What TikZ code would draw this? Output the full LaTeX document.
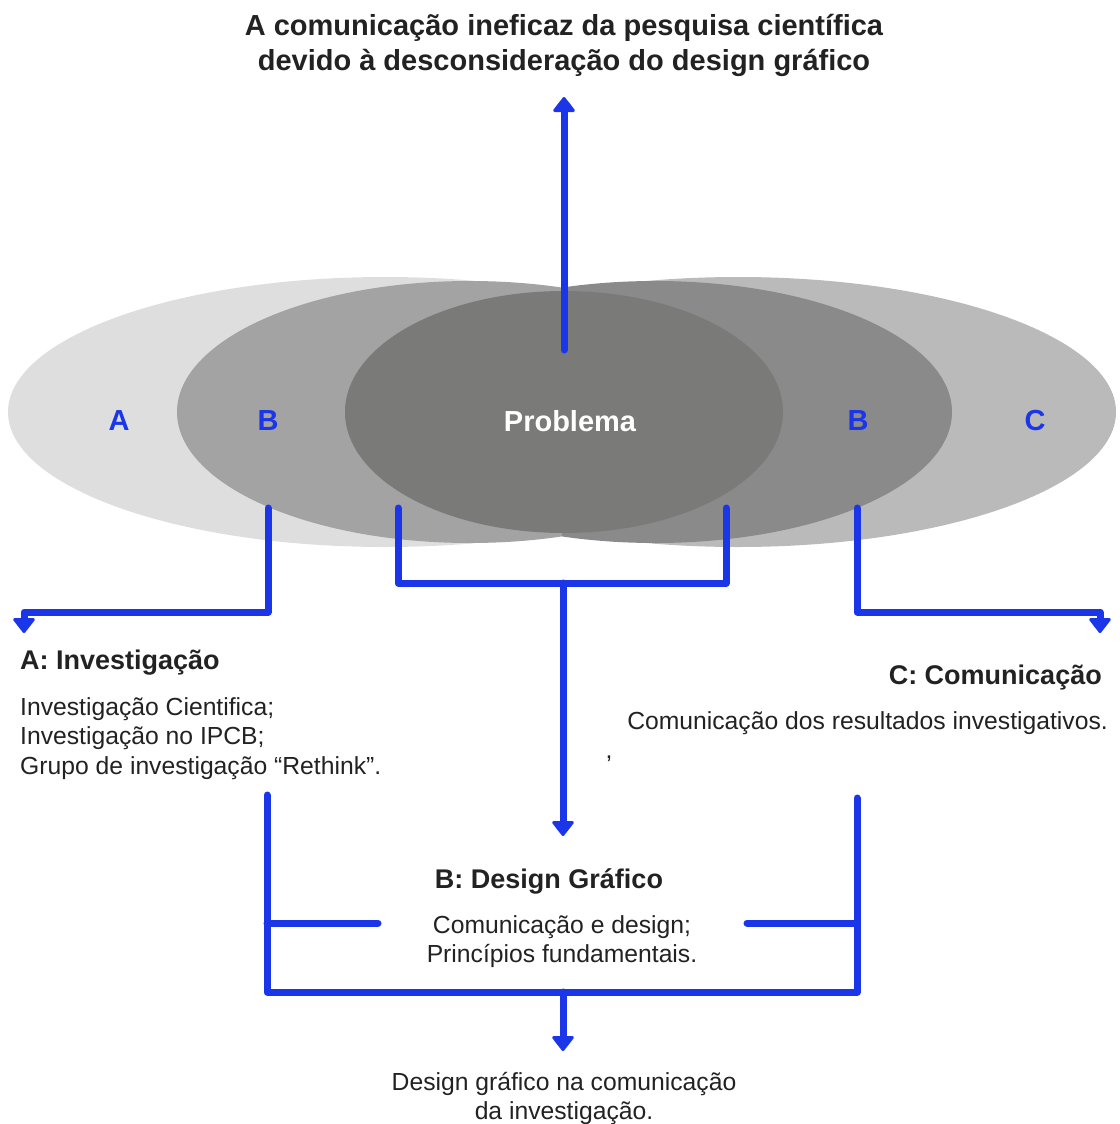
\documentclass[tikz,border=0pt]{standalone}
\usepackage{fontspec}
\setmainfont{Liberation Sans}
\usetikzlibrary{arrows.meta}

\definecolor{flowblue}{RGB}{26,54,232}
\definecolor{inkgray}{RGB}{34,34,34}
\definecolor{zoneA}{RGB}{222,222,222}
\definecolor{zoneBl}{RGB}{163,163,163}
\definecolor{zoneBr}{RGB}{138,138,138}
\definecolor{zoneC}{RGB}{186,186,186}
\definecolor{zoneP}{RGB}{122,122,120}

\tikzset{
  flow/.style={draw=flowblue, line width=7pt, line cap=round, line join=round},
  flowarrow/.style={flow, -{Triangle[round, width=24pt, length=16pt, line width=3pt]}},
  letter/.style={text=flowblue, inner sep=0pt, font=\fontsize{29}{35}\selectfont\bfseries},
  heading/.style={text=inkgray, inner sep=0pt, font=\fontsize{27}{32}\selectfont\bfseries},
  body/.style={text=inkgray, inner sep=0pt, font=\fontsize{24.7}{29.5}\selectfont},
}

\begin{document}
\begin{tikzpicture}[x=1pt, y=-1pt]
\useasboundingbox (0,0) rectangle (1119,1124);

\begin{scope}
  \clip (0,0) rectangle (562,1124);
  \fill[zoneA] (385,412) ellipse [x radius=377, y radius=135];
  \fill[zoneBl] (470,412) ellipse [x radius=293, y radius=131];
\end{scope}
\begin{scope}
  \clip (562,0) rectangle (1119,1124);
  \fill[zoneC] (738,412) ellipse [x radius=378, y radius=135];
  \fill[zoneBr] (655,412) ellipse [x radius=297, y radius=131];
\end{scope}
\fill[zoneP] (564,412) ellipse [x radius=219, y radius=121];

\node[text=inkgray, inner sep=0pt, font=\fontsize{29}{35}\selectfont\bfseries, align=center] (title) at (564,45)
  {A comunicação ineficaz da pesquisa científica\\devido à desconsideração do design gráfico};

\node[letter] (labA) at (119,421) {A};
\node[letter] (labBl) at (268,421) {B};
\node[letter, text=white] (labP) at (570,421) {Problema};
\node[letter] (labBr) at (858,421) {B};
\node[letter] (labC) at (1035,421) {C};

\node[heading, anchor=west] (headA) at (20,663) {A: Investigação};
\node[body, anchor=west, align=left] (bodyA) at (20,738.5)
  {Investigação Cientifica;\\Investigação no IPCB;\\Grupo de investigação “Rethink”.};
\node[heading, anchor=east] (headC) at (1102,678) {C: Comunicação};
\node[body, anchor=east] (bodyC) at (1108,723) {Comunicação dos resultados investigativos.};
\node[body] (comma) at (609,759) {,};
\node[heading] (headB) at (549,881) {B: Design Gráfico};
\node[body, align=center] (bodyB) at (562,941.5) {Comunicação e design;\\Princípios fundamentais.};
\node[body, align=center] (result) at (564,1098.5) {Design gráfico na comunicação\\da investigação.};

\coordinate (pTop) at (564,350);
\coordinate (tTip) at (564,97);
\coordinate (aStart) at (268,508);
\coordinate (aCorner) at (24,612);
\coordinate (aTip) at (24,633);
\coordinate (cStart) at (857,508);
\coordinate (cCorner) at (1100,612);
\coordinate (cTip) at (1100,633);
\coordinate (mL) at (398,508);
\coordinate (mR) at (726,508);
\coordinate (mJoin) at (563,583);
\coordinate (bTip) at (563,836);
\coordinate (lL) at (267,795);
\coordinate (lR) at (857,798);
\coordinate (lJoin) at (563,992);
\coordinate (tickL) at (378,923);
\coordinate (tickR) at (747,923);
\coordinate (rTip) at (563,1051);

\draw[flowarrow] (pTop) -- (tTip);
\draw[flowarrow] (aStart) |- (aCorner) -- (aTip);
\draw[flowarrow] (cStart) |- (cCorner) -- (cTip);
\draw[flow] (mL) |- (mJoin) -| (mR);
\draw[flowarrow] (mJoin) -- (bTip);
\draw[flow] (lL) |- (lJoin) -| (lR);
\draw[flow] (lL |- tickL) -- (tickL);
\draw[flow] (tickR) -- (lR |- tickR);
\draw[flowarrow] (lJoin) -- (rTip);

\end{tikzpicture}
\end{document}
